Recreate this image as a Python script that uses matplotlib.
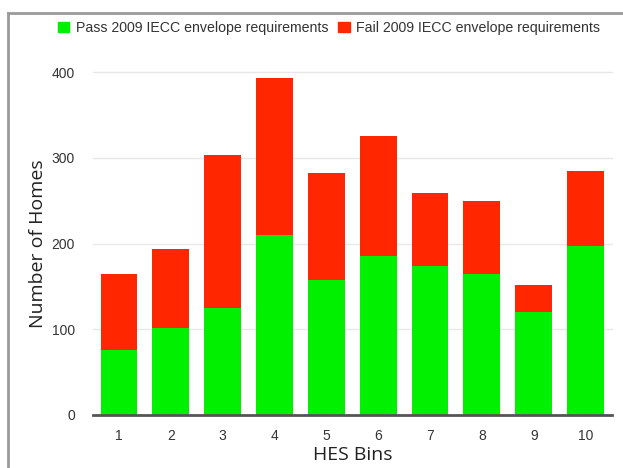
import matplotlib
matplotlib.use("Agg")
import matplotlib.pyplot as plt
from matplotlib.lines import Line2D
from matplotlib.patches import Patch

# Data
bins = [1, 2, 3, 4, 5, 6, 7, 8, 9, 10]
pass_homes = [76, 101, 125, 210, 157, 185, 174, 164, 120, 197]
fail_homes = [89, 93, 178, 183, 125, 140, 85, 86, 32, 88]  # stacked on top of pass
y_ticks = [0, 100, 200, 300, 400]

GREEN = "#00f000"
RED = "#ff2600"

W, H = 623, 468
fig = plt.figure(figsize=(W / 100, H / 100), dpi=100, facecolor="white")
ax = fig.add_axes([93 / W, 1 - 415 / H, (612 - 93) / W, (415 - 72) / H])

ax.bar(bins, pass_homes, width=0.71, color=GREEN, zorder=3)
ax.bar(bins, fail_homes, width=0.71, bottom=pass_homes, color=RED, zorder=3)

ax.set_xlim(0.498, 10.51)
ax.set_ylim(0, 400)
ax.set_yticks(y_ticks)
ax.set_xticks(bins)
ax.set_xticklabels([str(b) for b in bins])
for y in y_ticks[1:]:
    ax.axhline(y, color="#e8e8e8", linewidth=1.0, zorder=1, clip_on=False)

for side in ["top", "right", "left"]:
    ax.spines[side].set_visible(False)
ax.spines["bottom"].set_color("#555555")
ax.spines["bottom"].set_linewidth(2)
ax.spines["bottom"].set_zorder(4)
ax.tick_params(axis="both", length=0, labelsize=10, colors="#333333")
ax.tick_params(axis="y", pad=13)
ax.tick_params(axis="x", pad=10)
for lbl in ax.get_xticklabels() + ax.get_yticklabels():
    lbl.set_family("Liberation Sans")

ax.set_xlabel("HES Bins", fontsize=14, family="Open Sans", color="#222222", labelpad=2)
ax.set_ylabel("Number of Homes", fontsize=14, family="Open Sans", color="#222222", labelpad=3)

handles = [Patch(color=GREEN), Patch(color=RED)]
fig.legend(
    handles,
    ["Pass 2009 IECC envelope requirements", "Fail 2009 IECC envelope requirements"],
    loc="center",
    bbox_to_anchor=(329 / W, 1 - 28 / H),
    ncol=2,
    frameon=False,
    prop={"family": "Liberation Sans", "size": 10.2},
    handlelength=0.8,
    handleheight=0.8,
    handletextpad=0.45,
    columnspacing=0.7,
    labelcolor="#333333",
)

# grey frame around the figure (top and left edges visible)
fig.add_artist(Line2D([8 / W, 1.0], [1 - 13 / H, 1 - 13 / H], color="#9a9a9a", linewidth=2))
fig.add_artist(Line2D([8 / W, 8 / W], [0, 1 - 13 / H], color="#9a9a9a", linewidth=2))

fig.savefig("out.png", dpi=100, facecolor="white")
